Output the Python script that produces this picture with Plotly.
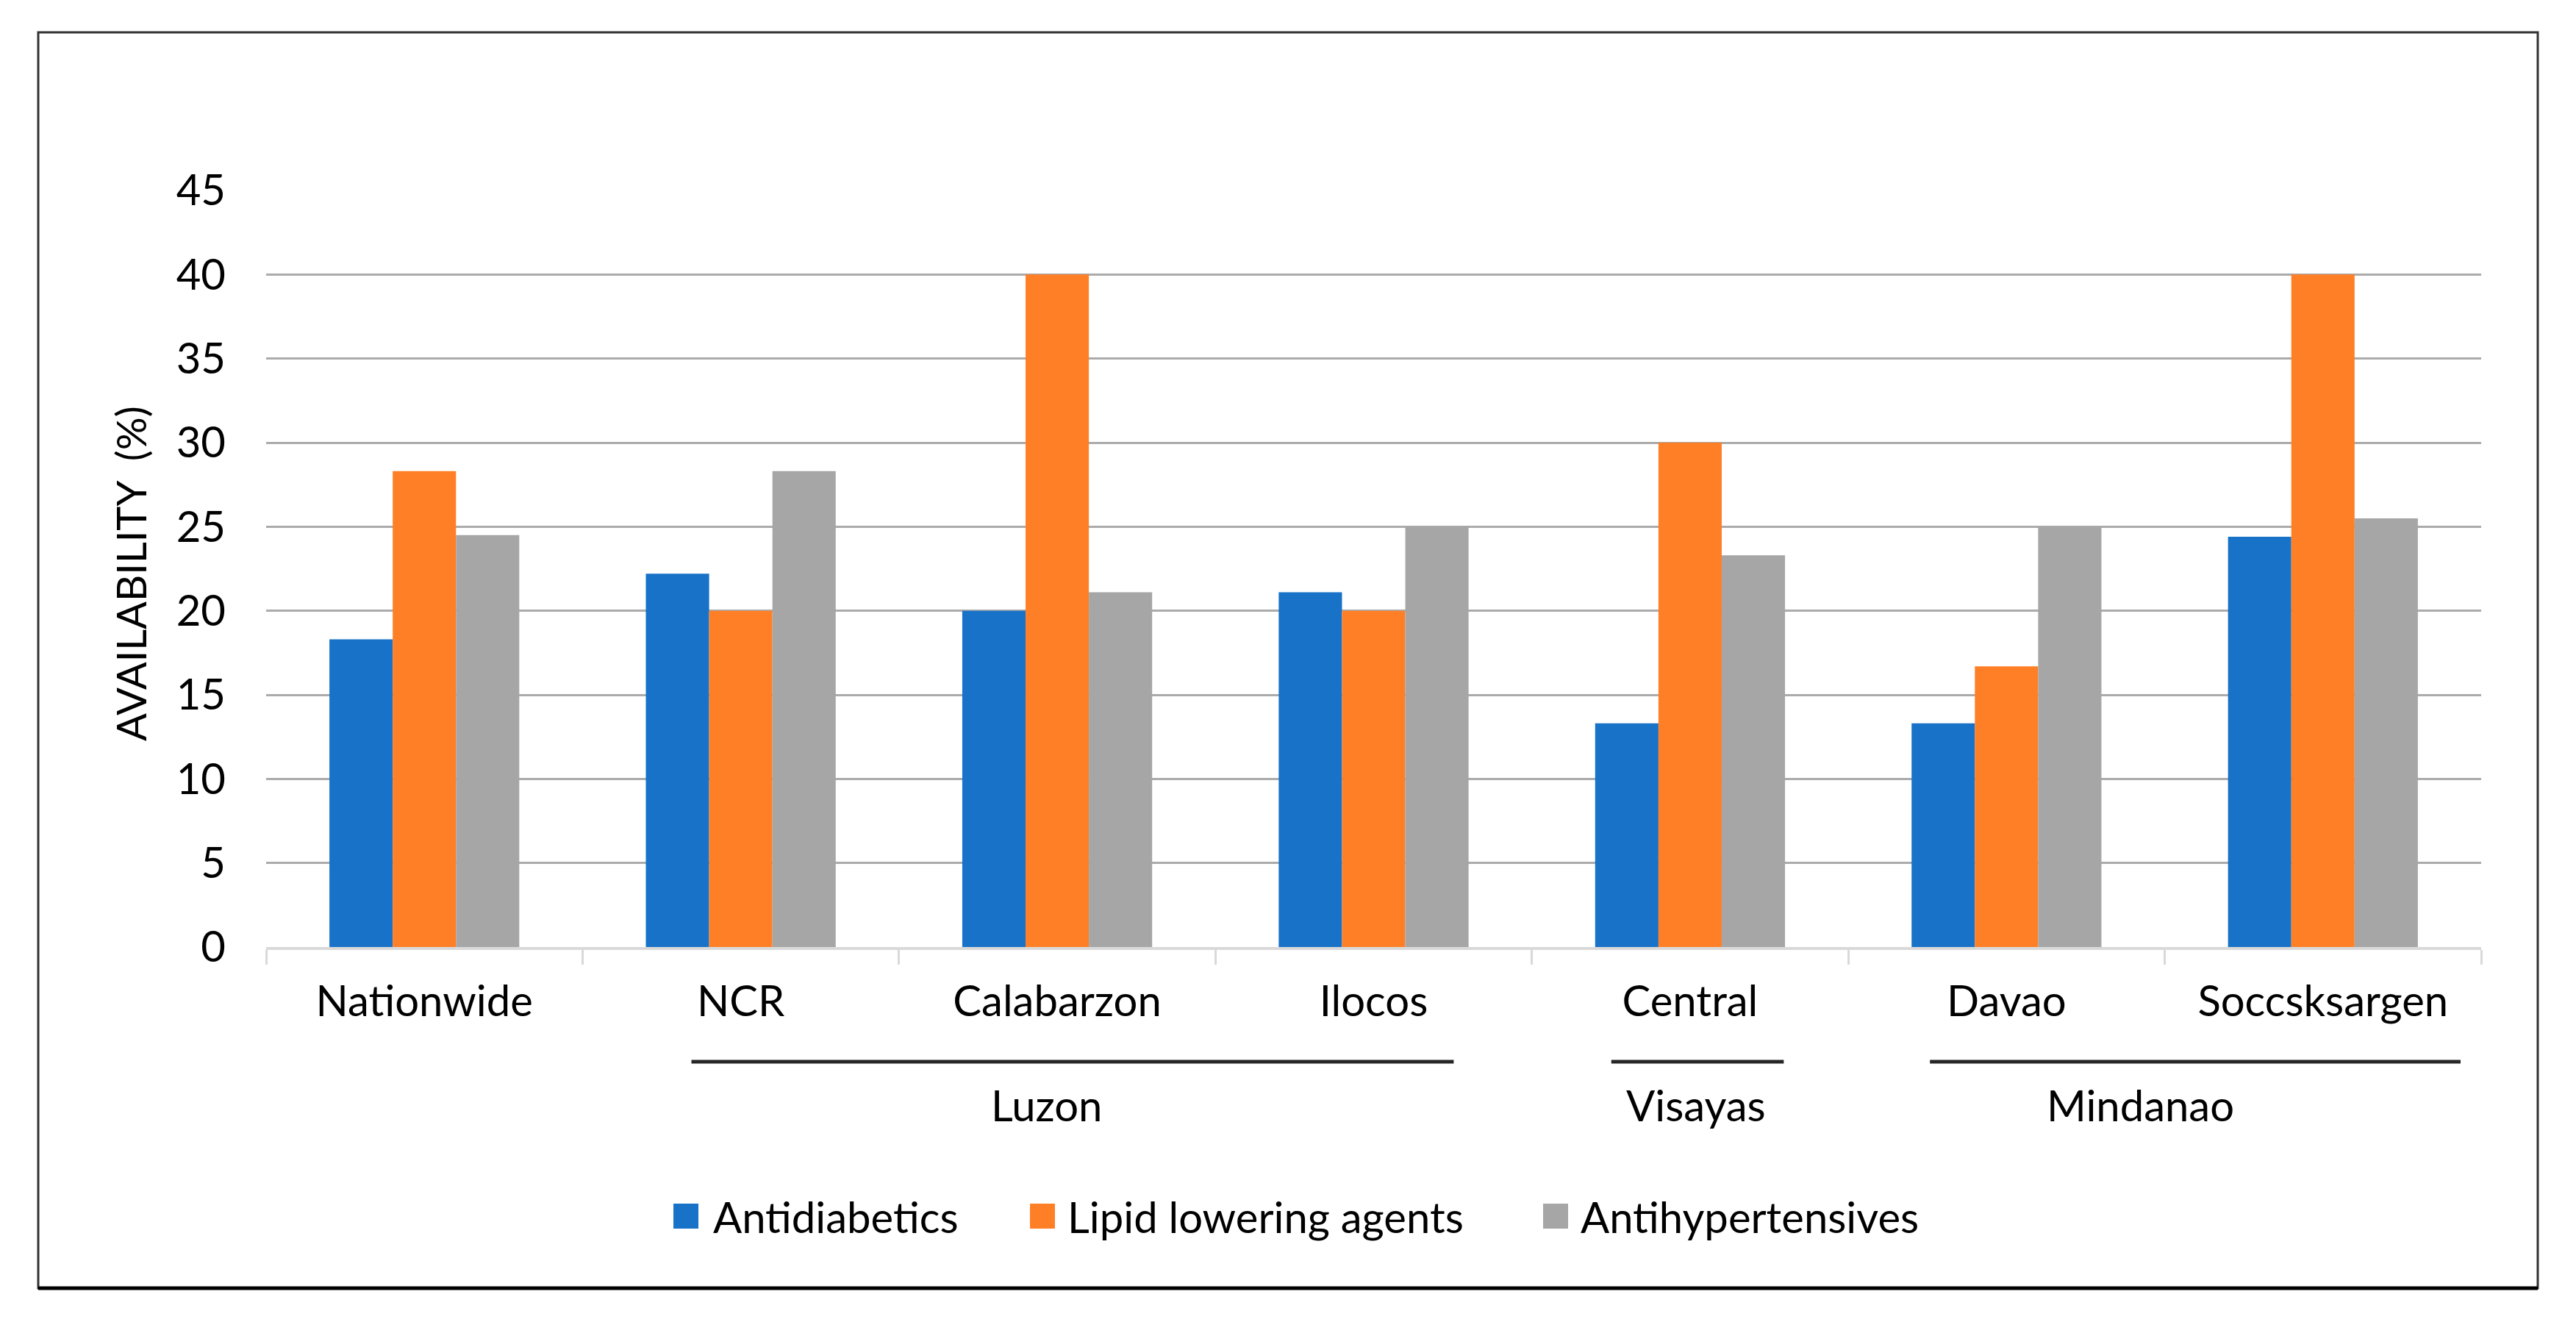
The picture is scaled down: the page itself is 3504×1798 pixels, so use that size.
import plotly.graph_objects as go

# ---------------- data ----------------
categories = ["Nationwide", "NCR", "Calabarzon", "Ilocos", "Central", "Davao", "Soccsksargen"]
series_names = ["Antidiabetics", "Lipid lowering agents", "Antihypertensives"]
antidiabetics = [18.3, 22.2, 20.0, 21.1, 13.3, 13.3, 24.4]
lipid_lowering = [28.3, 20.0, 40.0, 20.0, 30.0, 16.7, 40.0]
antihypertensives = [24.5, 28.3, 21.1, 25.0, 23.3, 25.0, 25.5]
groups = ["Luzon", "Visayas", "Mindanao"]
group_members = [["NCR", "Calabarzon", "Ilocos"], ["Central"], ["Davao", "Soccsksargen"]]
y_tick_values = [0, 5, 10, 15, 20, 25, 30, 35, 40, 45]
y_title = "AVAILABILITY  (%)"

# ---------------- style ----------------
SCREEN_W, SCREEN_H = 3504, 1798
OFF = 8  # default page body margin
W, H = SCREEN_W - 2 * OFF, SCREEN_H - 2 * OFF
# plot area in screen pixels
SL, SR, ST, SB = 362, 3375, 259, 1288
L, R, T, B = SL - OFF, SR - OFF, ST - OFF, SB - OFF
colors = ["#1872C8", "#FF7F27", "#A6A6A6"]
FONT = "Lato, Carlito, Calibri, 'Open Sans', sans-serif"
FS = 58


def px(x):
    """screen pixel x -> paper coordinate"""
    return (x - OFF - L) / (R - L)


def py(y):
    """screen pixel y -> paper coordinate"""
    return (B - (y - OFF)) / (B - T)


values = [antidiabetics, lipid_lowering, antihypertensives]
fig = go.Figure()
for name, vals, col in zip(series_names, values, colors):
    fig.add_trace(go.Bar(x=categories, y=vals, name=name, marker=dict(color=col, line=dict(width=0)),
                         showlegend=False))

shapes = []
annotations = []

# group brackets and labels
line_offsets = [(-0.156, 0.253), (-0.249, 0.296), (-0.242, 0.435)]
label_offsets = [-0.034, 0.018, -0.078]
for g, members, (o0, o1), lo in zip(groups, group_members, line_offsets, label_offsets):
    idx = [categories.index(m) for m in members]
    shapes.append(dict(type="line", xref="x", yref="paper", x0=min(idx) + o0, x1=max(idx) + o1,
                       y0=py(1444), y1=py(1444), line=dict(color="#262626", width=5)))
    annotations.append(dict(text=g, xref="x", yref="paper", x=sum(idx) / len(idx) + lo, y=py(1502),
                            showarrow=False, xanchor="center", yanchor="middle",
                            font=dict(family=FONT, size=FS, color="#000000")))

# manual legend
legend_sq = [916, 1401, 2099]
legend_tx = [968, 1450, 2148]
for name, col, sx, tx in zip(series_names, colors, legend_sq, legend_tx):
    shapes.append(dict(type="rect", xref="paper", yref="paper", x0=px(sx), x1=px(sx + 34),
                       y0=py(1671), y1=py(1637), fillcolor=col, line=dict(width=0)))
    annotations.append(dict(text=name, xref="paper", yref="paper", x=px(tx), y=py(1654),
                            showarrow=False, xanchor="left", yanchor="middle",
                            font=dict(family=FONT, size=FS, color="#000000")))

# y-axis title
annotations.append(dict(text=y_title, xref="paper", yref="paper", x=px(177), y=py(780),
                        textangle=-90, showarrow=False, xanchor="center", yanchor="middle",
                        font=dict(family=FONT, size=FS - 2, color="#000000")))

# outer border
shapes.append(dict(type="rect", xref="paper", yref="paper", x0=px(52), x1=px(3452), y0=py(1752), y1=py(44),
                   line=dict(color="#333333", width=3), layer="below"))
shapes.append(dict(type="line", xref="paper", yref="paper", x0=px(52), x1=px(3452), y0=py(1752), y1=py(1752),
                   line=dict(color="#000000", width=5)))

fig.update_layout(
    width=W, height=H,
    margin=dict(l=L, r=W - R, t=T, b=H - B, autoexpand=False),
    paper_bgcolor="white", plot_bgcolor="white",
    barmode="group", bargap=0.4, bargroupgap=0,
    shapes=shapes, annotations=annotations,
    font=dict(family=FONT, size=FS, color="#000000"),
)
fig.update_xaxes(type="category", categoryorder="array", categoryarray=categories,
                 tickson="boundaries", ticks="outside", ticklen=20, tickwidth=3, tickcolor="#D9D9D9",
                 showline=True, linecolor="#D9D9D9", linewidth=4, showgrid=False,
                 tickfont=dict(family=FONT, size=FS, color="#000000"), ticklabelstandoff=20,
                 automargin=False)
fig.update_yaxes(range=[0, 45], tickvals=y_tick_values, showgrid=True, gridcolor="#ABABAB", gridwidth=3,
                 zeroline=False, showline=False, ticks="",
                 tickfont=dict(family=FONT, size=FS, color="#000000"), ticklabelstandoff=54,
                 automargin=False)

fig.write_html("out.html")
